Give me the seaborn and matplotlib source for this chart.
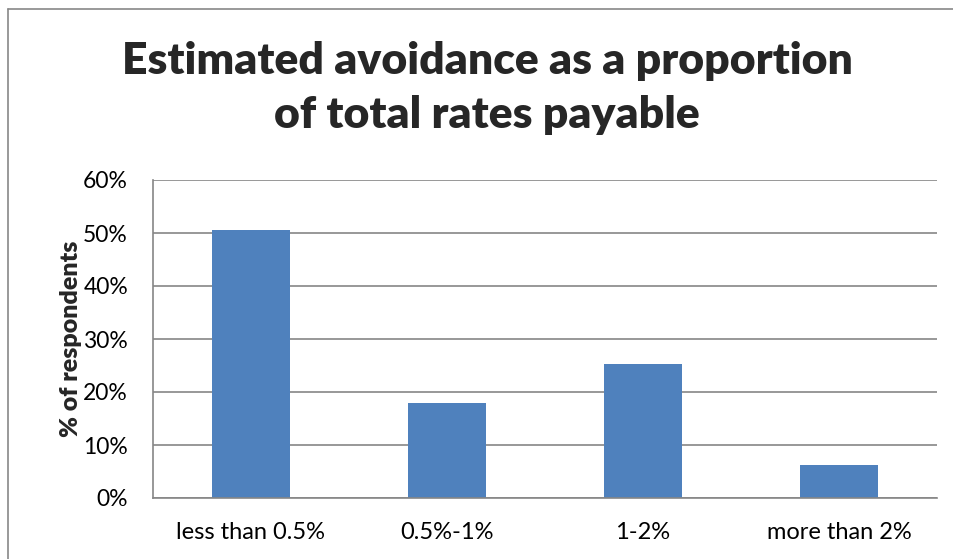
import matplotlib
matplotlib.use("Agg")
import matplotlib.pyplot as plt
import seaborn as sns
import pandas as pd
from matplotlib.lines import Line2D
from matplotlib.ticker import PercentFormatter

categories = ["less than 0.5%", "0.5%-1%", "1-2%", "more than 2%"]
values = [50.5, 17.9, 25.3, 6.3]
yticks = [0, 10, 20, 30, 40, 50, 60]
title_lines = ["Estimated avoidance as a proportion", "of total rates payable"]
ylabel = "% of respondents"

sns.set_style("white")
plt.rcParams["font.family"] = ["Lato", "DejaVu Sans"]

W, H = 954, 559
fig = plt.figure(figsize=(W / 100, H / 100), dpi=100)
fig.patch.set_facecolor("white")

ax = fig.add_axes([153 / W, 1 - 498 / H, (937 - 153) / W, (498 - 180) / H])
df = pd.DataFrame({"cat": categories, "val": values})
sns.barplot(data=df, x="cat", y="val", color="#4F81BD", saturation=1, width=0.4,
            edgecolor="none", ax=ax)

ax.set_ylim(0, 60)
ax.set_xlim(-0.5, len(categories) - 0.5)
ax.set_yticks(yticks)
ax.yaxis.set_major_formatter(PercentFormatter(decimals=0))
grid_c = "#868686"
ax.grid(axis="y", color=grid_c, linewidth=1.2)
ax.set_axisbelow(True)
for s in ["top", "right"]:
    ax.spines[s].set_visible(False)
for s in ["left", "bottom"]:
    ax.spines[s].set_color(grid_c)
    ax.spines[s].set_linewidth(1.2)
ax.tick_params(axis="both", length=0, colors="black")
ax.tick_params(axis="y", pad=18, labelsize=16.5)
ax.tick_params(axis="x", pad=17, labelsize=17)
ax.set_xlabel("")
ax.set_ylabel(ylabel, fontsize=18, fontweight="heavy", labelpad=0.5)

fig.text(487 / W, 1 - 74 / H, title_lines[0], ha="center", va="baseline",
         fontsize=32, fontweight="heavy")
fig.text(487 / W, 1 - 128 / H, title_lines[1], ha="center", va="baseline",
         fontsize=32, fontweight="heavy")

# chart border (top and left visible; right/bottom cropped)
border_c = "#878787"
fig.add_artist(Line2D([8.5 / W, 1.0], [1 - 9 / H, 1 - 9 / H], color=border_c,
                      linewidth=1.2, transform=fig.transFigure))
fig.add_artist(Line2D([8.5 / W, 8.5 / W], [0, 1 - 9 / H], color=border_c,
                      linewidth=1.2, transform=fig.transFigure))

fig.savefig("out.png", dpi=100)
